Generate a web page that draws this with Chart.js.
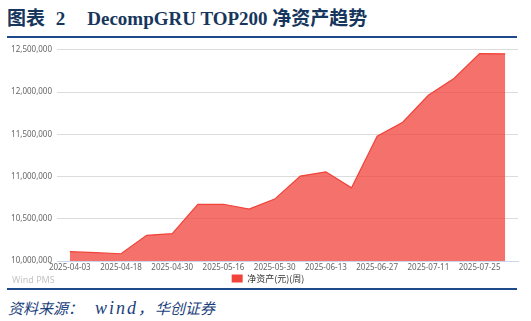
<!DOCTYPE html>
<html>
<head>
<meta charset="utf-8">
<script src="https://cdn.jsdelivr.net/npm/chart.js@4/dist/chart.umd.min.js"></script>
<style>
  body { margin: 0; background: #fff; width: 531px; height: 321px; position: relative; overflow: hidden; }
  #title { position: absolute; left: 7px; top: 3px; font-family: "Liberation Serif", "Noto Sans CJK SC", serif; font-weight: bold; font-size: 19px; color: #17365d; white-space: nowrap; }
  #title .num { margin-left: 6px; margin-right: 22px; }
  .rule { position: absolute; left: 7px; width: 510px; height: 2px; background: #1e4a8a; }
  #chartBox { position: absolute; left: 0; top: 40px; width: 531px; height: 253px; }
  #wind { position: absolute; left: 12px; top: 273px; font-family: "Noto Sans", sans-serif; font-size: 9px; color: #c4c4c4; }
  #source { position: absolute; left: 8px; top: 297px; font-family: "Liberation Serif", "Noto Sans CJK SC", serif; font-style: italic; font-size: 15px; color: #1b3f7c; white-space: nowrap; }
  #source .w { font-size: 18px; letter-spacing: 2px; margin-left: 12px; }
  #source .c { margin-right: 2px; }
</style>
</head>
<body>
<div id="title">图表<span class="num"> 2</span>DecompGRU TOP200 净资产趋势</div>
<div class="rule" style="top:36px"></div>
<div id="chartBox"><canvas id="navChart"></canvas></div>
<div id="wind">Wind PMS</div>
<div class="rule" style="top:288px"></div>
<div id="source">资料来源：<span class="w">wind</span><span class="c">，</span>华创证券</div>

<script>
// 周度净资产 (元)
var dates = ['2025-04-03', '2025-04-11', '2025-04-18', '2025-04-25', '2025-04-30', '2025-05-09',
             '2025-05-16', '2025-05-23', '2025-05-30', '2025-06-06', '2025-06-13', '2025-06-20',
             '2025-06-27', '2025-07-04', '2025-07-11', '2025-07-18', '2025-07-25', '2025-08-01'];
var netAssets = [10110000, 10098000, 10086000, 10304000, 10323000, 10670000,
                 10672000, 10615000, 10733000, 11005000, 11056000, 10866000,
                 11478000, 11643000, 11962000, 12160000, 12455000, 12452000];
var yTicks = [10000000, 10500000, 11000000, 11500000, 12000000, 12500000];
var seriesName = '净资产(元)(周)';

var red = '#f0433a';

// 图例整体右移一点, 和原图位置对齐
var legendShift = {
    id: 'legendShift',
    afterLayout: function(chart) {
        chart.legend.left += 9;
        chart.legend.right += 9;
    }
};

var ctx = document.getElementById('navChart').getContext('2d');
var navChart = new Chart(ctx, {
    type: 'line',
    data: {
        labels: dates,
        datasets: [{
            label: seriesName,
            data: netAssets,
            borderColor: red,
            borderWidth: 1.2,
            backgroundColor: 'rgba(240, 67, 58, 0.75)',
            fill: 'start',
            tension: 0,
            pointRadius: 0
        }]
    },
    options: {
        responsive: true,
        maintainAspectRatio: false,
        animation: false,
        layout: { padding: { top: 8, right: 13, left: 0, bottom: 0 } },
        plugins: {
            tooltip: { enabled: false },
            legend: {
                display: true,
                position: 'bottom',
                labels: {
                    boxWidth: 11,
                    boxHeight: 8,
                    padding: 0,
                    color: '#333',
                    font: { family: 'Noto Sans CJK SC', size: 9 },
                    generateLabels: function(chart) {
                        return [{
                            text: seriesName,
                            fillStyle: red,
                            strokeStyle: red,
                            lineWidth: 0,
                            fontColor: '#333',
                            datasetIndex: 0
                        }];
                    }
                }
            }
        },
        scales: {
            x: {
                offset: true,
                grid: { display: false, drawTicks: false },
                border: { display: true, color: '#ccd6eb', width: 1 },
                ticks: {
                    autoSkip: false,
                    maxRotation: 0,
                    padding: 2,
                    color: '#666',
                    font: { family: 'Noto Sans', size: 8 },
                    callback: function(v, i) { return i % 2 === 0 ? dates[i] : ''; }
                },
                afterFit: function(scale) { scale.height = 13; }
            },
            y: {
                min: yTicks[0],
                max: yTicks[yTicks.length - 1],
                afterBuildTicks: function(scale) {
                    scale.ticks = yTicks.map(function(v) { return { value: v }; });
                },
                grid: {
                    drawTicks: false,
                    color: function(c) { return c.tick && c.tick.value === yTicks[0] ? 'rgba(0,0,0,0)' : '#dcdcdc'; }
                },
                border: { display: false },
                ticks: {
                    padding: 5,
                    color: '#666',
                    font: { family: 'Noto Sans', size: 8 },
                    callback: function(v) { return Number(v).toLocaleString('en-US'); }
                },
                afterFit: function(scale) { scale.width = 57; }
            }
        }
    },
    plugins: [legendShift]
});
</script>
</body>
</html>
